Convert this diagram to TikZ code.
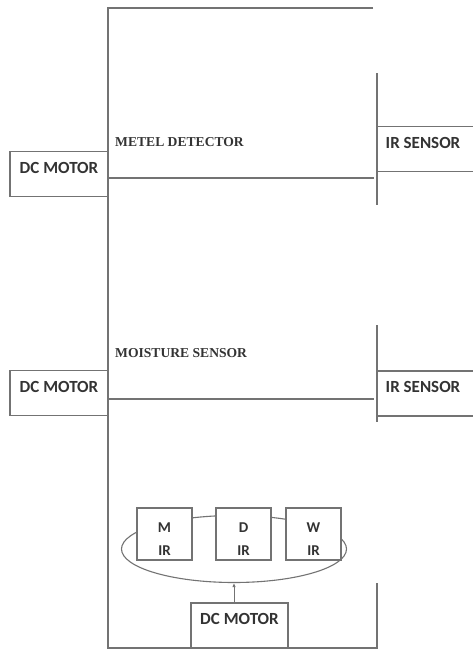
\documentclass[tikz,border=0pt]{standalone}
\usepackage{fontspec}
\setmainfont{Liberation Serif}
\newfontfamily\boxfont{Carlito}
\usetikzlibrary{arrows.meta, positioning, shapes.geometric}

\begin{document}
\begin{tikzpicture}[x=1pt, y=-1pt,
    wire/.style={draw=black!55, line width=1.1pt},
    unitbox/.style={draw=black!55, line width=1.1pt, fill=white, text=black!80,
        font=\boxfont\bfseries\fontsize{17}{20}\selectfont,
        minimum width=98pt, minimum height=45pt, text height=11pt, text depth=13pt, inner sep=2pt},
    sensorbox/.style={unitbox, minimum width=110pt},
    irbox/.style={draw=black!55, line width=1.1pt, fill=white, text=black!80,
        font=\boxfont\bfseries\fontsize{15}{23}\selectfont, align=center,
        minimum width=55pt, minimum height=52pt, inner sep=0pt},
    tag/.style={font=\bfseries\fontsize{13.6}{16}\selectfont, text=black!80, anchor=base west, inner sep=0pt}
]
    \fill[white] (0,0) rectangle (473,653);
    \clip (0,0) rectangle (473,653);

    % frame
    \coordinate (topleft) at (108,8);
    \coordinate (topright) at (373,8);
    \coordinate (botleft) at (108,648);
    \coordinate (botright) at (377,648);
    \coordinate (botbar) at (377,583);
    \draw[wire] (topright) -- (topleft) -- (botleft) -- (botright) -- (botbar);

    % first stage
    \node[unitbox] (dc1) at (59,174) {DC MOTOR};
    \node[sensorbox] (ir1) at (432,149) {IR SENSOR\hspace*{18pt}};
    \node[tag] (metal) at (115,146.5) {METEL DETECTOR};
    \coordinate (bar1a) at (377,73);
    \coordinate (bar1b) at (377,205);
    \coordinate (arm1) at (374,178);
    \draw[wire] (bar1a) -- (bar1b);
    \draw[wire] ([yshift=-4pt]dc1.east) -- (arm1);

    % second stage
    \node[unitbox] (dc2) at (59,393) {DC MOTOR};
    \node[sensorbox] (ir2) at (432,393.5) {IR SENSOR\hspace*{18pt}};
    \node[tag] (moist) at (115,357.5) {MOISTURE SENSOR};
    \coordinate (bar2a) at (377,325);
    \coordinate (bar2b) at (377,422);
    \coordinate (arm2) at (374,399);
    \draw[wire] (bar2a) -- (bar2b);
    \draw[wire] ([yshift=-6pt]dc2.east) -- (arm2);

    % rotating disc
    \node[ellipse, wire, minimum width=225pt, minimum height=67pt] (ring) at (234,549) {};
    \node[irbox] (mir) at (164.5,534) {\rule{0pt}{20pt}M\\IR};
    \node[irbox] (dir) at (243.5,534) {\rule{0pt}{20pt}D\\IR};
    \node[irbox] (wir) at (313.5,534) {\rule{0pt}{20pt}W\\IR};
    \node[unitbox, minimum width=97pt] (dc3) at (239.5,625.5) {DC MOTOR};
    \draw[wire, line width=0.9pt, -{Latex[length=4pt, width=3.5pt]}] (dc3.north -| ring.south) -- (ring.south);
\end{tikzpicture}
\end{document}
